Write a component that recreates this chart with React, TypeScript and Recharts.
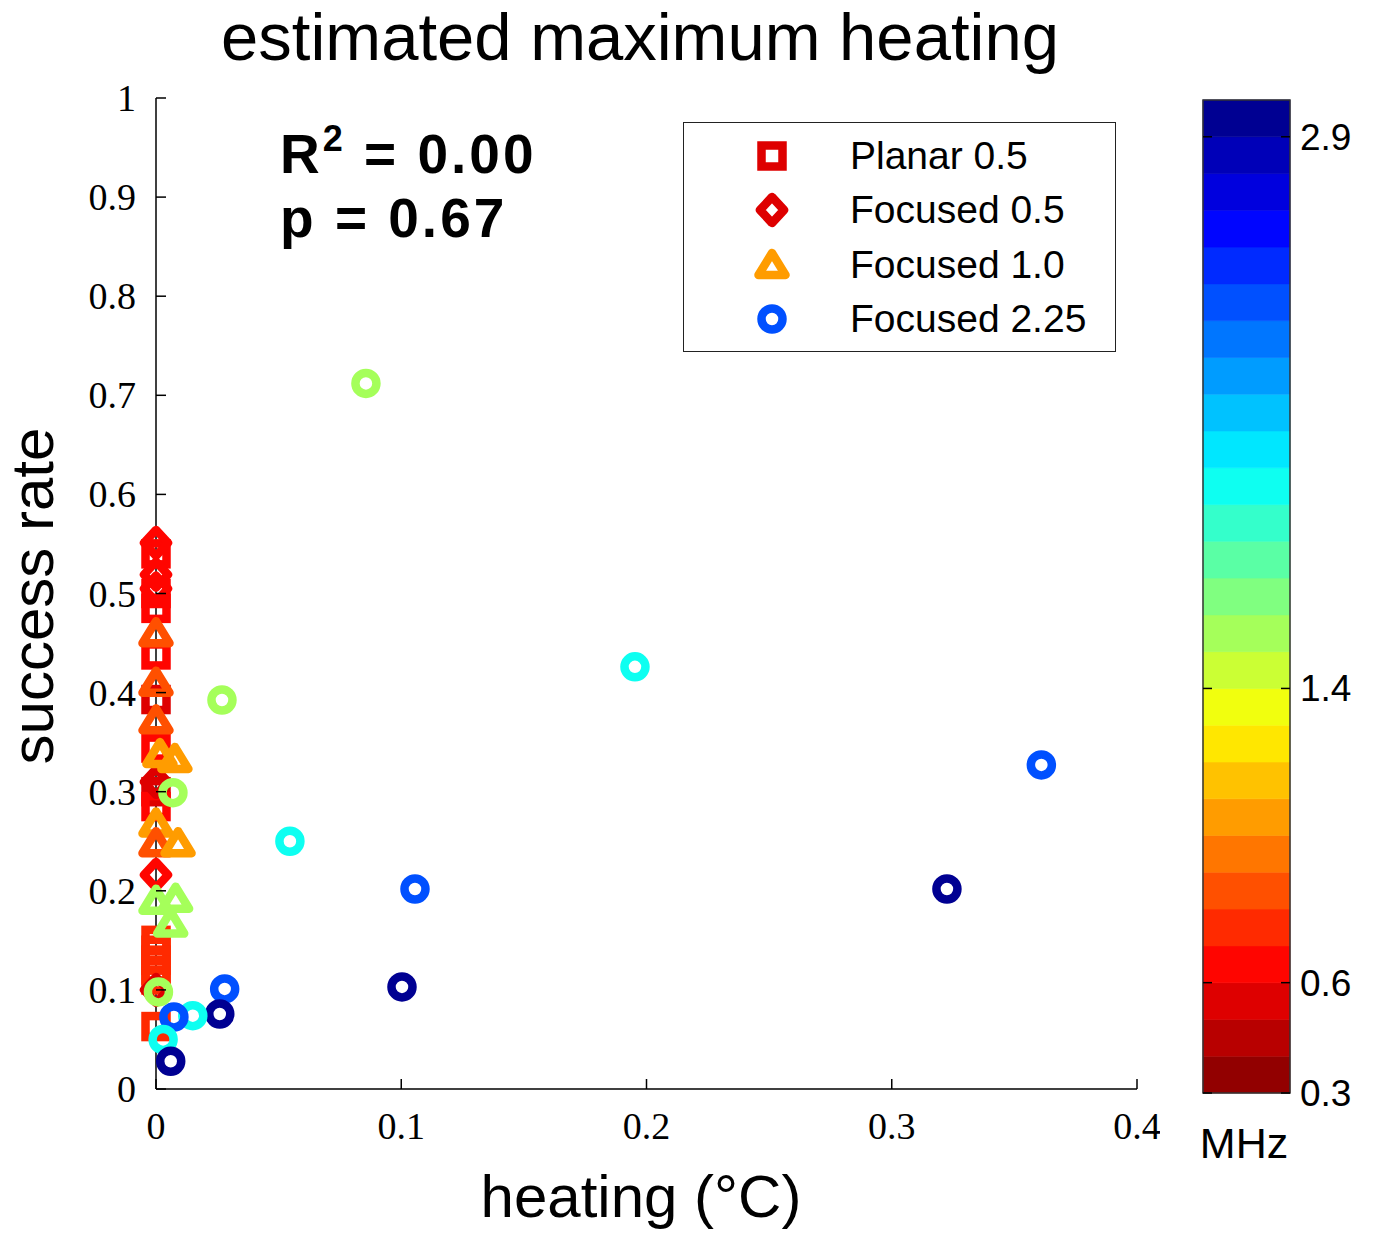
import { ScatterChart, Scatter, XAxis, YAxis, Legend, ReferenceArea } from "recharts";

// ---- data ----
// Planar 0.5 (squares)
const planarX = [0, 0, 0, 0, 0, 0, 0, 0, 0, 0, 0, 0, 0, 0];
const planarY = [0.54, 0.5, 0.485, 0.438, 0.393, 0.344, 0.3, 0.285, 0.15, 0.14, 0.13, 0.12, 0.11, 0.063];
const planarMhz = [0.6, 0.6, 0.6, 0.6, 0.5, 0.6, 0.5, 0.6, 0.7, 0.7, 0.7, 0.7, 0.7, 0.7];

// Focused 0.5 (diamonds)
const foc05X = [0, 0, 0, 0, 0, 0];
const foc05Y = [0.551, 0.519, 0.505, 0.31, 0.216, 0.1];
const foc05Mhz = [0.6, 0.6, 0.6, 0.5, 0.6, 0.5];

// Focused 1.0 (triangles)
const foc10X = [0, 0, 0, 0.0016, 0.0077, 0, 0, 0.009, 0, 0.008, 0.006];
const foc10Y = [0.46, 0.41, 0.372, 0.338, 0.333, 0.268, 0.248, 0.248, 0.19, 0.192, 0.167];
const foc10Mhz = [0.8, 0.8, 0.8, 1.0, 1.0, 1.0, 0.8, 1.0, 1.5, 1.5, 1.5];

// Focused 2.25 (circles)
const foc225X = [0.0856, 0.1953, 0.0269, 0.361, 0.0069, 0.0546, 0.1056, 0.3225, 0.1003, 0.028, 0.026, 0.015, 0.0073, 0.0029, 0.006, 0.001];
const foc225Y = [0.712, 0.426, 0.3925, 0.327, 0.299, 0.25, 0.2018, 0.2018, 0.103, 0.101, 0.0757, 0.074, 0.0727, 0.05, 0.028, 0.098];
const foc225Mhz = [1.5, 1.9, 1.5, 2.4, 1.5, 1.9, 2.4, 2.95, 2.95, 2.4, 2.95, 1.9, 2.4, 1.9, 2.95, 1.5];

const seriesNames = ["Planar 0.5", "Focused 0.5", "Focused 1.0", "Focused 2.25"];
const seriesShapes = ["square", "diamond", "triangle", "circle"];
const legendMhz = [0.5, 0.5, 1.0, 2.4];

const xTicks = [0, 0.1, 0.2, 0.3, 0.4];
const yTicks = [0, 0.1, 0.2, 0.3, 0.4, 0.5, 0.6, 0.7, 0.8, 0.9, 1];
const cbTicks = [0.3, 0.6, 1.4, 2.9];
const cbMin = 0.3;
const cbMax = 3.0;
const cbStep = 0.1;

// ---- colour map (jet, high MHz = blue) ----
const nBands = Math.round((cbMax - cbMin) / cbStep);

function bandColor(k: number) {
  const t = 1 - (k + 0.5) / nBands;
  const c = (v: number) => Math.round(255 * Math.min(1, Math.max(0, v)));
  const r = c(1.5 - Math.abs(4 * t - 3));
  const g = c(1.5 - Math.abs(4 * t - 2));
  const b = c(1.5 - Math.abs(4 * t - 1));
  return `rgb(${r},${g},${b})`;
}

function mhzColor(m: number) {
  const k = Math.min(nBands - 1, Math.max(0, Math.floor((m - cbMin) / cbStep + 1e-6)));
  return bandColor(k);
}

const bands = Array.from({ length: nBands }, (_, k) => ({
  y1: cbMin + k * cbStep,
  y2: cbMin + (k + 1) * cbStep,
  color: bandColor(k),
}));

// two invisible anchor points so the colour-bar axes get built
const cbAnchor = [
  { x: 0, y: cbMin },
  { x: 1, y: cbMax },
];

const build = (xs: number[], ys: number[], ms: number[], kind: string) =>
  xs.map((x, i) => ({ x, y: ys[i], mhz: ms[i], kind }));

const planar = build(planarX, planarY, planarMhz, "square");
const foc05 = build(foc05X, foc05Y, foc05Mhz, "diamond");
const foc10 = build(foc10X, foc10Y, foc10Mhz, "triangle");
const foc225 = build(foc225X, foc225Y, foc225Mhz, "circle");

// ---- markers ----
function Glyph({ kind, cx, cy, color }: { kind: string; cx: number; cy: number; color: string }) {
  const sw = 8.5;
  if (kind === "square") {
    return <rect x={cx - 10.5} y={cy - 10.5} width={21} height={21} fill="none" stroke={color} strokeWidth={sw} />;
  }
  if (kind === "diamond") {
    const d = `M${cx},${cy - 13} L${cx + 12},${cy} L${cx},${cy + 13} L${cx - 12},${cy} Z`;
    return <path d={d} fill="none" stroke={color} strokeWidth={sw} strokeLinejoin="round" />;
  }
  if (kind === "triangle") {
    const d = `M${cx},${cy - 12} L${cx + 13.5},${cy + 10} L${cx - 13.5},${cy + 10} Z`;
    return <path d={d} fill="none" stroke={color} strokeWidth={sw} strokeLinejoin="round" />;
  }
  return <circle cx={cx} cy={cy} r={10.5} fill="none" stroke={color} strokeWidth={sw} />;
}

const renderMarker = (props: any) => {
  const { cx, cy, payload } = props;
  return <Glyph kind={payload.kind} cx={cx} cy={cy} color={mhzColor(payload.mhz)} />;
};

const XTick = (props: any) => {
  const { x, y, payload } = props;
  return (
    <g>
      <line x1={x} y1={y} x2={x} y2={y - 10} stroke="#000" strokeWidth={1.5} />
      <text x={x} y={y + 50} textAnchor="middle" fontFamily="Liberation Serif" fontSize={38} fill="#000">
        {String(payload.value)}
      </text>
    </g>
  );
};

const YTick = (props: any) => {
  const { x, y, payload } = props;
  return (
    <g>
      <line x1={x + 20} y1={y} x2={x + 30} y2={y} stroke="#000" strokeWidth={1.5} />
      <text x={x} y={y + 13} textAnchor="end" fontFamily="Liberation Serif" fontSize={38} fill="#000">
        {String(payload.value)}
      </text>
    </g>
  );
};

const cbPlotW = 87;
const CbTick = (props: any) => {
  const { x, y, payload } = props;
  const right = x - 10;
  const left = right - cbPlotW;
  return (
    <g>
      <line x1={right} y1={y} x2={right - 9} y2={y} stroke="#000" strokeWidth={1.5} />
      <line x1={left} y1={y} x2={left + 9} y2={y} stroke="#000" strokeWidth={1.5} />
      <text x={x} y={y + 13} textAnchor="start" fontFamily="Liberation Sans" fontSize={37} fill="#000">
        {String(payload.value)}
      </text>
    </g>
  );
};

const renderLegend = (props: any) => {
  const items = [...(props.payload || [])].sort(
    (a: any, b: any) => seriesNames.indexOf(a.value) - seriesNames.indexOf(b.value)
  );
  return (
    <div
      style={{
        width: 433,
        height: 230,
        boxSizing: "border-box",
        border: "1.5px solid #222",
        background: "#fff",
        paddingTop: 6,
        fontFamily: "Liberation Sans",
        fontSize: 39,
        color: "#000",
      }}
    >
      {items.map((entry: any) => {
        const i = seriesNames.indexOf(entry.value);
        return (
          <div key={entry.value} style={{ height: 54.3, display: "flex", alignItems: "center", position: "relative" }}>
            <svg width={40} height={40} style={{ position: "absolute", left: 68, top: 7 }}>
              <Glyph kind={seriesShapes[i]} cx={20} cy={20} color={mhzColor(legendMhz[i])} />
            </svg>
            <span style={{ position: "absolute", left: 166 }}>{entry.value}</span>
          </div>
        );
      })}
    </div>
  );
};

export default function App() {
  return (
    <div style={{ position: "absolute", left: 0, top: 0, width: 1373, height: 1236, background: "#fff" }}>
      <div style={{ position: "absolute", left: 0, top: 0 }}>
        <ScatterChart width={1160} height={1236} margin={{ top: 98, right: 23, bottom: 87, left: 76 }}>
          <XAxis
            type="number"
            dataKey="x"
            domain={[0, 0.4]}
            ticks={xTicks}
            tick={<XTick />}
            tickLine={false}
            tickSize={0}
            tickMargin={0}
            height={60}
            axisLine={{ stroke: "#000", strokeWidth: 1.5 }}
          />
          <YAxis
            type="number"
            dataKey="y"
            domain={[0, 1]}
            ticks={yTicks}
            tick={<YTick />}
            tickLine={false}
            tickSize={0}
            tickMargin={20}
            width={80}
            axisLine={{ stroke: "#000", strokeWidth: 1.5 }}
          />
          <Legend
            layout="vertical"
            align="center"
            verticalAlign="middle"
            content={renderLegend}
            wrapperStyle={{ left: 683, top: 122, width: 433, height: 230 }}
          />
          <Scatter name={seriesNames[0]} data={planar} shape={renderMarker} isAnimationActive={false} />
          <Scatter name={seriesNames[1]} data={foc05} shape={renderMarker} isAnimationActive={false} />
          <Scatter name={seriesNames[2]} data={foc10} shape={renderMarker} isAnimationActive={false} />
          <Scatter name={seriesNames[3]} data={foc225} shape={renderMarker} isAnimationActive={false} />
        </ScatterChart>
      </div>

      <div style={{ position: "absolute", left: 1190, top: 80 }}>
        <ScatterChart width={183} height={1040} margin={{ top: 20, right: 23, bottom: 27, left: 13 }}>
          <XAxis type="number" dataKey="x" domain={[0, 1]} hide />
          <YAxis
            type="number"
            dataKey="y"
            orientation="right"
            domain={[cbMin, cbMax]}
            ticks={cbTicks}
            tick={<CbTick />}
            tickLine={false}
            tickSize={0}
            tickMargin={10}
            width={60}
            axisLine={false}
          />
          {bands.map((b) => (
            <ReferenceArea
              key={b.y1}
              y1={b.y1}
              y2={b.y2}
              fill={b.color}
              fillOpacity={1}
              stroke={b.color}
              strokeWidth={0.6}
            />
          ))}
          <ReferenceArea y1={cbMin} y2={cbMax} fill="none" stroke="#333" strokeWidth={1.5} />
          <Scatter data={cbAnchor} shape={() => <g />} isAnimationActive={false} legendType="none" />
        </ScatterChart>
      </div>

      <svg
        width={1373}
        height={1236}
        style={{ position: "absolute", left: 0, top: 0, pointerEvents: "none" }}
        fontFamily="Liberation Sans"
      >
        <text x={640} y={60} textAnchor="middle" fontSize={67} fill="#000">
          estimated maximum heating
        </text>
        <text x={641} y={1217} textAnchor="middle" fontSize={60} fill="#000">
          heating (°C)
        </text>
        <text x={53} y={596} textAnchor="middle" fontSize={60} fill="#000" transform="rotate(-90 53 596)">
          success rate
        </text>
        <text x={280} y={173} fontSize={55} fontWeight="bold" letterSpacing={3} fill="#000">
          R<tspan dy={-22} fontSize={36}>2</tspan>
          <tspan dy={22}> = 0.00</tspan>
        </text>
        <text x={280} y={237} fontSize={55} fontWeight="bold" letterSpacing={3} fill="#000">
          p = 0.67
        </text>
        <text x={1244} y={1158} textAnchor="middle" fontSize={43} fill="#000">
          MHz
        </text>
      </svg>
    </div>
  );
}
